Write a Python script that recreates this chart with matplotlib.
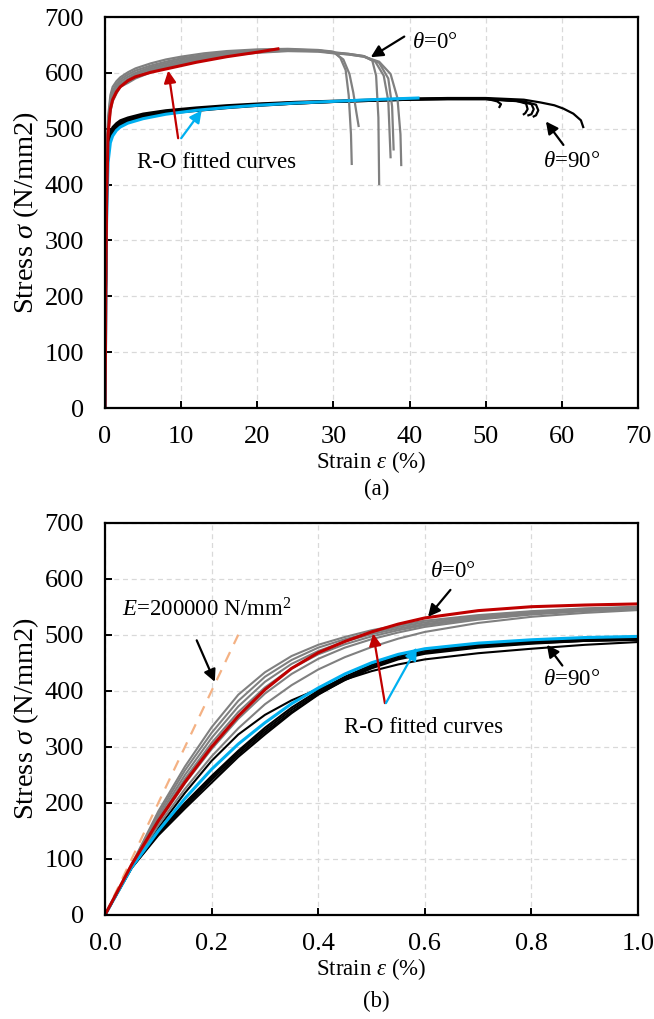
#!/usr/bin/env python3
# -*- coding: utf-8 -*-

"""
Courbes contrainte-deformation (essais de traction, theta = 0 et 90 deg)
avec les courbes ajustees de Ramberg-Osgood (R-O).
"""

import matplotlib
matplotlib.use("Agg")
import matplotlib.pyplot as plt

plt.rcParams['font.family'] = ['Liberation Serif', 'DejaVu Serif']
plt.rcParams['mathtext.fontset'] = 'custom'
plt.rcParams['mathtext.rm'] = 'Liberation Serif'
plt.rcParams['mathtext.it'] = 'Liberation Serif:italic'
plt.rcParams['mathtext.bf'] = 'Liberation Serif:bold'

GRAY = '#808080'
RED = '#C00000'
BLUE = '#00B0F0'
SALMON = '#F4B183'

TICK_FS = 19
YLAB_FS = 20.5
TXT_FS = 16.5

# ---------------------------------------------------------------------------
# (a) courbes completes
# ---------------------------------------------------------------------------
a_strain_0 = [0, 0.2, 0.4, 0.7, 1, 1.5, 2, 3, 4, 6, 8, 10, 13, 16, 20, 24, 28, 30]
a_stress_0 = [
    [0, 400, 520, 560, 575, 585, 592, 601, 608, 617, 624, 629, 635, 639, 642, 643, 641, 638],
    [0, 400, 515, 552, 568, 580, 588, 597, 604, 613, 620, 626, 632, 637, 640, 642, 640, 637],
    [0, 395, 505, 545, 562, 575, 584, 593, 600, 610, 617, 623, 630, 635, 639, 641, 640, 637],
    [0, 395, 500, 540, 557, 570, 580, 589, 597, 607, 614, 620, 628, 634, 638, 640, 639, 636],
    [0, 390, 495, 535, 552, 566, 577, 585, 593, 604, 611, 618, 626, 632, 637, 640, 639, 636],
    [0, 390, 490, 530, 549, 563, 575, 582, 590, 601, 609, 616, 625, 631, 636, 639, 638, 635],
]
# rupture de chaque eprouvette theta=0
a_tail_0 = [
    [(30.9, 627), (31.6, 605), (32.0, 560), (32.3, 490), (32.4, 437)],
    [(31.3, 624), (32.1, 598), (32.6, 565), (33.0, 530), (33.3, 505)],
    [(32, 634), (34, 630), (35.1, 622), (35.6, 595), (35.9, 520), (36.0, 401)],
    [(32, 633), (34, 629), (35.5, 620), (36.6, 595), (37.2, 550), (37.5, 449)],
    [(32, 634), (34, 630), (36, 618), (37.2, 590), (37.7, 540), (37.9, 463)],
    [(32, 633), (34, 629), (36, 620), (37.5, 598), (38.4, 555), (38.8, 490), (38.9, 435)],
]

a_strain_90 = [0, 0.2, 0.4, 0.7, 1, 1.5, 2, 3, 5, 8, 12, 16, 20, 25, 30, 35, 40, 45, 50]
a_stress_90 = [
    [0, 380, 470, 495, 503, 510, 515, 520, 527, 533, 538, 542, 545, 548, 550, 552, 554, 555, 555],
    [0, 380, 465, 492, 500, 507, 512, 518, 525, 531, 536, 540, 544, 547, 549, 551, 553, 554, 554],
    [0, 375, 460, 488, 497, 505, 510, 516, 523, 529, 534, 539, 543, 546, 549, 551, 553, 554, 554],
    [0, 375, 455, 485, 494, 502, 508, 514, 521, 528, 533, 538, 542, 545, 548, 550, 552, 553, 553],
    [0, 370, 450, 482, 492, 500, 506, 512, 520, 527, 532, 537, 541, 545, 548, 550, 552, 553, 553],
]
a_tail_90 = [
    [(55, 552), (57.2, 547), (59, 542), (60.2, 536), (61.5, 527), (62.5, 515), (62.8, 503)],
    [(51.5, 549), (52.0, 544), (51.8, 539)],
    [(54, 550), (55.3, 545), (55.5, 535), (55.2, 528), (55.0, 526)],
    [(54.5, 549), (56, 544), (56.3, 535), (56, 526), (55.6, 524)],
    [(55, 549), (56.6, 543), (56.9, 533), (56.6, 524), (56.3, 522)],
]

a_strain_fit0 = [0, 0.2, 0.4, 0.7, 1, 1.5, 2, 3, 4, 6, 8, 12, 16, 20, 22.7]
a_stress_fit0 = [0, 360, 490, 535, 552, 566, 575, 586, 593, 601, 607, 619, 629, 637, 643]
a_strain_fit90 = [0, 0.2, 0.4, 0.7, 1, 1.5, 2, 3, 5, 8, 12, 16, 20, 25, 30, 35, 41.1]
a_stress_fit90 = [0, 330, 440, 475, 487, 497, 503, 510, 518, 526, 533, 538, 542, 546, 549, 552, 555]

# ---------------------------------------------------------------------------
# (b) zoom sur 0-1 %
# ---------------------------------------------------------------------------
b_strain = [0, 0.05, 0.1, 0.15, 0.2, 0.25, 0.3, 0.35, 0.4, 0.45, 0.5, 0.55, 0.6, 0.7, 0.8, 0.9, 1.0]
b_stress_0 = [
    [0, 90, 185, 265, 335, 393, 433, 462, 482, 496, 508, 517, 525, 535, 542, 547, 550],
    [0, 90, 180, 258, 325, 382, 425, 455, 477, 492, 504, 514, 522, 533, 541, 546, 549],
    [0, 88, 175, 250, 316, 372, 416, 448, 471, 488, 501, 511, 519, 531, 540, 545, 548],
    [0, 88, 170, 243, 307, 362, 406, 440, 465, 483, 497, 508, 517, 529, 538, 544, 547],
    [0, 87, 165, 235, 296, 350, 395, 430, 457, 477, 492, 504, 514, 527, 536, 542, 546],
    [0, 85, 160, 225, 283, 333, 376, 410, 438, 460, 478, 493, 505, 521, 532, 539, 544],
]
b_stress_90 = [
    [0, 86, 148, 200, 248, 293, 334, 370, 400, 425, 446, 462, 472, 482, 488, 492, 494],
    [0, 85, 146, 197, 245, 290, 330, 366, 397, 422, 443, 459, 469, 480, 486, 490, 493],
    [0, 84, 144, 194, 241, 286, 326, 362, 394, 419, 440, 456, 466, 477, 484, 489, 491],
    [0, 88, 155, 218, 275, 322, 357, 383, 403, 420, 435, 447, 456, 467, 475, 482, 487],
    [0, 84, 142, 190, 236, 282, 322, 360, 393, 420, 442, 458, 468, 479, 485, 489, 491],
]
b_stress_fit0 = [0, 90, 168, 237, 300, 355, 402, 440, 468, 488, 505, 519, 530, 543, 550, 553, 555]
b_stress_fit90 = [0, 85, 150, 208, 260, 305, 343, 377, 405, 430, 450, 465, 475, 485, 491, 495, 497]

# droite elastique E = 200000 N/mm2
e_strain = [0, 0.25]
e_stress = [0, 500]


def style_axes(ax, xmax, xstep):
    """Cadre, grille pointillee et graduations comme dans Excel."""
    ax.set_xlim(0, xmax)
    ax.set_ylim(0, 700)
    ax.set_xticks([i * xstep for i in range(int(round(xmax / xstep)) + 1)])
    ax.set_yticks(range(0, 701, 100))
    ax.grid(True, color='#D9D9D9', linestyle=(0, (4, 3)), linewidth=0.9)
    ax.set_axisbelow(True)
    for sp in ax.spines.values():
        sp.set_linewidth(1.6)
        sp.set_color('black')
    ax.tick_params(direction='in', length=5, width=1.4, labelsize=TICK_FS,
                   top=False, right=False)
    ax.tick_params(axis='x', pad=13)
    ax.tick_params(axis='y', pad=15)
    ax.set_xlabel('Strain $\\varepsilon$ (%)', fontsize=TXT_FS, labelpad=1)
    ax.set_ylabel('Stress $\\sigma$ (N/mm2)', fontsize=YLAB_FS, labelpad=3)


def arrow(ax, tip, tail, color):
    ax.annotate('', xy=tip, xytext=tail,
                arrowprops=dict(arrowstyle='-|>', color=color, lw=1.6,
                                mutation_scale=18, shrinkA=0, shrinkB=0))


fig = plt.figure(figsize=(6.54, 10.19), dpi=100)
ax1 = fig.add_axes([0.1606, 0.5996, 0.8150, 0.3837])
ax2 = fig.add_axes([0.1606, 0.1021, 0.8150, 0.3850])

# --- (a)
for ys, tail in zip(a_stress_90, a_tail_90):
    xs = a_strain_90 + [p[0] for p in tail]
    ax1.plot(xs, ys + [p[1] for p in tail], color='black', lw=1.6)
for ys, tail in zip(a_stress_0, a_tail_0):
    xs = a_strain_0 + [p[0] for p in tail]
    ax1.plot(xs, ys + [p[1] for p in tail], color=GRAY, lw=1.6)
ax1.plot(a_strain_fit90, a_stress_fit90, color=BLUE, lw=2.2)
ax1.plot(a_strain_fit0, a_stress_fit0, color=RED, lw=2.2)
style_axes(ax1, 70, 10)

ax1.text(40.3, 655, '$\\theta$=0°', fontsize=TXT_FS, va='center')
arrow(ax1, (34.9, 628), (39.3, 665), 'black')
ax1.text(57.5, 441, '$\\theta$=90°', fontsize=TXT_FS, va='center')
arrow(ax1, (57.9, 513), (60.2, 471), 'black')
ax1.text(14.6, 439, 'R-O fitted curves', fontsize=TXT_FS, ha='center', va='center')
arrow(ax1, (8.3, 604), (9.6, 483), RED)
arrow(ax1, (12.7, 533), (10.0, 483), BLUE)

# --- (b)
for ys in b_stress_90:
    ax2.plot(b_strain, ys, color='black', lw=1.5)
for ys in b_stress_0:
    ax2.plot(b_strain, ys, color=GRAY, lw=1.5)
ax2.plot(e_strain, e_stress, color=SALMON, lw=1.6, linestyle=(0, (5, 4)))
ax2.plot(b_strain, b_stress_fit90, color=BLUE, lw=2.2)
ax2.plot(b_strain, b_stress_fit0, color=RED, lw=2.2)
style_axes(ax2, 1.0, 0.2)
ax2.set_xticklabels(['0.0', '0.2', '0.4', '0.6', '0.8', '1.0'])

ax2.text(0.61, 612, '$\\theta$=0°', fontsize=TXT_FS, va='center')
arrow(ax2, (0.606, 532), (0.648, 580), 'black')
ax2.text(0.822, 420, '$\\theta$=90°', fontsize=TXT_FS, va='center')
arrow(ax2, (0.829, 482), (0.858, 445), 'black')
ax2.text(0.597, 334, 'R-O fitted curves', fontsize=TXT_FS, ha='center', va='center')
arrow(ax2, (0.503, 502), (0.525, 378), RED)
arrow(ax2, (0.585, 477), (0.527, 378), BLUE)
ax2.text(0.032, 545, '$E$=200000 N/mm$^2$', fontsize=TXT_FS, va='center')
arrow(ax2, (0.206, 416), (0.172, 490), 'black')

fig.text(0.5755, 1 - 489 / 1019, '(a)', fontsize=TXT_FS, ha='center', va='center')
fig.text(0.5755, 1 - 1001 / 1019, '(b)', fontsize=TXT_FS, ha='center', va='center')

fig.savefig('out.png', dpi=100, facecolor='white')
plt.close(fig)
